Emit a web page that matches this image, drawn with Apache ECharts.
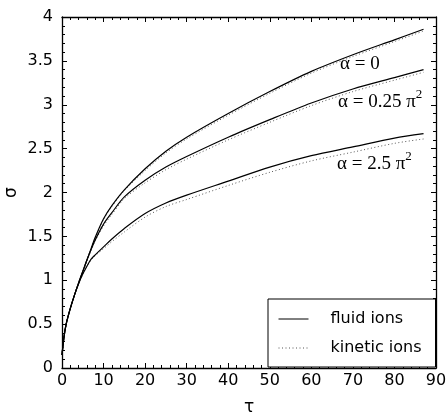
<!DOCTYPE html>
<html><head><meta charset="utf-8">
<script src="https://cdn.jsdelivr.net/npm/echarts@6/dist/echarts.min.js"></script>
<style>html,body{margin:0;padding:0;background:#fff}#c{width:448px;height:412px}</style>
</head><body><div id="c"></div>
<script>
var tau = [0, 0.5, 1, 2, 3, 4, 5, 6, 7, 8, 10, 12, 15, 20, 25, 30, 40, 50, 60, 70, 80, 87];
var fluidA0   = [0.15, 0.36, 0.50, 0.68, 0.83, 0.97, 1.10, 1.23, 1.36, 1.49, 1.70, 1.85, 2.03, 2.27, 2.47, 2.63, 2.90, 3.15, 3.38, 3.57, 3.74, 3.86];
var fluidA025 = [0.15, 0.36, 0.50, 0.68, 0.83, 0.97, 1.10, 1.23, 1.35, 1.46, 1.64, 1.77, 1.95, 2.14, 2.29, 2.41, 2.63, 2.83, 3.02, 3.18, 3.31, 3.40];
var fluidA25  = [0.15, 0.36, 0.50, 0.68, 0.83, 0.96, 1.07, 1.16, 1.24, 1.29, 1.38, 1.47, 1.59, 1.76, 1.88, 1.97, 2.13, 2.29, 2.42, 2.52, 2.62, 2.67];
var kinA0     = [0.15, 0.36, 0.50, 0.68, 0.83, 0.97, 1.10, 1.23, 1.36, 1.48, 1.69, 1.84, 2.02, 2.25, 2.45, 2.61, 2.88, 3.13, 3.36, 3.55, 3.72, 3.84];
var kinA025   = [0.15, 0.36, 0.50, 0.68, 0.83, 0.97, 1.10, 1.22, 1.34, 1.45, 1.62, 1.75, 1.93, 2.11, 2.26, 2.38, 2.60, 2.80, 2.99, 3.15, 3.28, 3.37];
var kinA25    = [0.15, 0.36, 0.50, 0.68, 0.83, 0.96, 1.07, 1.16, 1.23, 1.28, 1.36, 1.44, 1.55, 1.72, 1.84, 1.92, 2.08, 2.23, 2.36, 2.46, 2.56, 2.61];
var xTicks = [0, 10, 20, 30, 40, 50, 60, 70, 80, 90];
var yTicks = [0, 0.5, 1, 1.5, 2, 2.5, 3, 3.5, 4];
var legendNames = ['fluid ions', 'kinetic ions'];

function pairs(ys){ return tau.map(function(t,i){ return [t, ys[i]]; }); }
var chart = echarts.init(document.getElementById('c'), null, {renderer:'canvas'});
var axisLine = {show:true, onZero:false, lineStyle:{color:'#000', width:1.3}};
var tickX = {show:true, inside:true, length:5, lineStyle:{color:'#000'}};
var minorX = {show:true, splitNumber:5, length:3, lineStyle:{color:'#000'}};
var labelFont = {fontFamily:'DejaVu Sans', fontSize:16, color:'#000'};
function solid(ys){ return {name:legendNames[0], type:'line', data:pairs(ys), symbol:'none', smooth:0.3, lineStyle:{color:'#000', width:1.2, type:'solid'}, itemStyle:{color:'#000'}, z:3}; }
function dotted(ys){ return {name:legendNames[1], type:'line', data:pairs(ys), symbol:'none', smooth:0.3, lineStyle:{color:'#555', width:1, type:[1,2.5]}, itemStyle:{color:'#555'}, z:2}; }

var option = {
  backgroundColor:'#fff',
  animation:false,
  grid:{left:62, right:12, top:17, bottom:44, containLabel:false, outerBoundsMode:'none'},
  xAxis:[
    {type:'value', min:xTicks[0], max:xTicks[xTicks.length-1], interval:10, position:'bottom',
     axisLine:axisLine, axisTick:tickX, minorTick:minorX, splitLine:{show:false},
     axisLabel:Object.assign({margin:5}, labelFont),
     name:'τ', nameLocation:'middle', nameGap:31, nameMoveOverlap:false, nameTextStyle:{fontFamily:'DejaVu Sans', fontSize:17, color:'#000'}},
    {type:'value', min:xTicks[0], max:xTicks[xTicks.length-1], interval:10, position:'top',
     axisLine:axisLine, axisTick:tickX, minorTick:minorX, splitLine:{show:false}, axisLabel:{show:false}}
  ],
  yAxis:[
    {type:'value', min:yTicks[0], max:yTicks[yTicks.length-1], interval:0.5, position:'left',
     axisLine:axisLine, axisTick:tickX, minorTick:minorX, splitLine:{show:false},
     axisLabel:Object.assign({margin:9}, labelFont),
     name:'σ', nameLocation:'middle', nameGap:42, nameMoveOverlap:false, nameRotate:90, nameTextStyle:{fontFamily:'DejaVu Sans', fontSize:17, color:'#000'}},
    {type:'value', min:yTicks[0], max:yTicks[yTicks.length-1], interval:0.5, position:'right',
     axisLine:axisLine, axisTick:tickX, minorTick:minorX, splitLine:{show:false}, axisLabel:{show:false}}
  ],
  legend:{
    show:true,
    data:legendNames, orient:'vertical', left:268, top:299,
    padding:[12, 14, 11, 10], itemGap:13, itemWidth:30, itemHeight:16,
    borderColor:'#000', borderWidth:1, backgroundColor:'#fff',
    itemStyle:{color:'rgba(0,0,0,0)', borderColor:'rgba(0,0,0,0)', borderWidth:0},
    lineStyle:{width:1},
    textStyle:{fontFamily:'DejaVu Sans', fontSize:16, color:'#000', padding:[0,0,0,17]}
  },
  series:[solid(fluidA0), solid(fluidA025), solid(fluidA25), dotted(kinA0), dotted(kinA025), dotted(kinA25)],
  graphic:[
    {type:'text', left:340, top:55, style:{text:'α = 0', font:'19px "Liberation Serif"', fill:'#000'}},
    {type:'text', left:338, top:88, style:{text:'{a|α = 0.25 π}{s|2}', rich:{a:{font:'19px "Liberation Serif"', fill:'#000'}, s:{font:'13px "Liberation Serif"', fill:'#000', padding:[0,0,16,0]}}}},
    {type:'text', left:337, top:150, style:{text:'{a|α = 2.5 π}{s|2}', rich:{a:{font:'19px "Liberation Serif"', fill:'#000'}, s:{font:'13px "Liberation Serif"', fill:'#000', padding:[0,0,16,0]}}}}
  ]
};
chart.setOption(option);
</script></body></html>
